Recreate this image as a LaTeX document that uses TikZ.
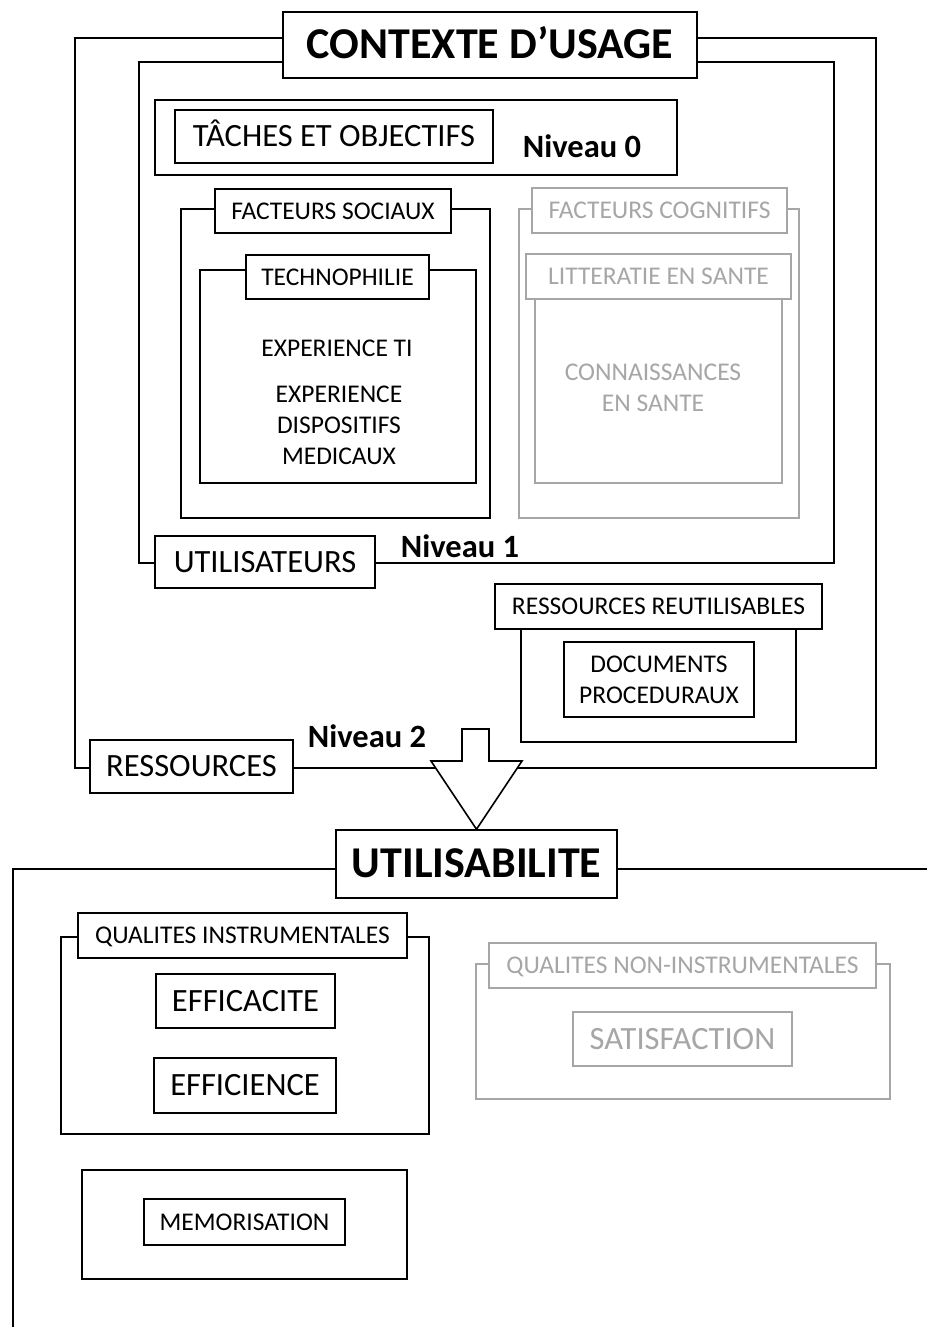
\documentclass[tikz,border=0pt]{standalone}
\usepackage{fontspec}
\setmainfont{Carlito}
\definecolor{lgray}{RGB}{166,166,166}
\begin{document}
\begin{tikzpicture}[x=1pt,y=-1pt,
  frame/.style={draw=black,line width=1.6pt},
  gframe/.style={draw=lgray,line width=1.6pt},
  lbl/.style={draw=black,line width=1.6pt,fill=white,inner sep=0pt,anchor=center},
  glbl/.style={lbl,draw=lgray,text=lgray},
  big/.style={font=\fontsize{44}{50}\selectfont\bfseries,text height=27.8pt,text depth=0pt},
  large/.style={font=\fontsize{32.5}{38}\selectfont,text height=20.5pt,text depth=0pt},
  med/.style={font=\fontsize{25.5}{31}\selectfont,text height=16.1pt,text depth=0pt},
  niv/.style={font=\fontsize{32.5}{38}\selectfont\bfseries,text height=20.5pt,text depth=0pt,inner sep=0pt},
  multi/.style={font=\fontsize{25.5}{31}\selectfont,align=center,inner sep=0pt},
]
\useasboundingbox (0,0) rectangle (927,1327);
\fill[white] (0,0) rectangle (927,1327);
% frames
\draw[frame] (75,38) rectangle (876,768);
\draw[frame] (139,62) rectangle (834,563);
\draw[frame] (155,100) rectangle (677,175);
\draw[frame] (181,209) rectangle (490,518);
\draw[frame] (200,270) rectangle (476,483);
\draw[gframe] (519,209) rectangle (799,518);
\draw[gframe] (535,276) rectangle (782,483);
\draw[frame] (521,606) rectangle (796,742);
\draw[frame] (927,869) -- (13,869) -- (13,1327);
\draw[frame] (61,937) rectangle (429,1134);
\draw[gframe] (476,964) rectangle (890,1099);
\draw[frame] (82,1170) rectangle (407,1279);
% labels
\node[lbl,big,minimum width=414pt,minimum height=66pt] (ctx) at (490,45) {CONTEXTE D’USAGE};
\node[lbl,large,minimum width=318pt,minimum height=53pt] (taches) at (334,136.5) {TÂCHES ET OBJECTIFS};
\node[niv] (n0) at (582,147) {Niveau 0};
\node[lbl,med,minimum width=236pt,minimum height=44pt] (fs) at (333,211) {FACTEURS SOCIAUX};
\node[lbl,med,minimum width=183pt,minimum height=44pt] (tech) at (337.5,277) {TECHNOPHILIE};
\node[med,inner sep=0pt] (expti) at (337,348) {EXPERIENCE TI};
\node[multi] (expdm) at (339,425.5) {EXPERIENCE\\DISPOSITIFS\\MEDICAUX};
\node[glbl,med,minimum width=255pt,minimum height=45pt] (fc) at (659.5,210.5) {FACTEURS COGNITIFS};
\node[glbl,med,minimum width=265pt,minimum height=45pt] (lit) at (658.5,276.5) {LITTERATIE EN SANTE};
\node[multi,text=lgray] (conn) at (653,388) {CONNAISSANCES\\EN SANTE};
\node[lbl,large,minimum width=220pt,minimum height=52pt] (users) at (265,562) {UTILISATEURS};
\node[niv] (n1) at (460,547) {Niveau 1};
\node[lbl,med,minimum width=327pt,minimum height=45pt] (rr) at (658.5,606.5) {RESSOURCES REUTILISABLES};
\node[lbl,multi,minimum width=190pt,minimum height=75pt] (docs) at (659,679.5) {DOCUMENTS\\PROCEDURAUX};
\node[lbl,large,minimum width=203pt,minimum height=53pt] (res) at (191.5,766.5) {RESSOURCES};
\node[niv] (n2) at (367,737.5) {Niveau 2};
\node[lbl,big,minimum width=281pt,minimum height=68pt] (util) at (476.5,864) {UTILISABILITE};
\node[lbl,med,minimum width=329pt,minimum height=45pt] (qi) at (242.5,935.5) {QUALITES INSTRUMENTALES};
\node[lbl,large,minimum width=179pt,minimum height=54pt] (eff1) at (245.5,1001) {EFFICACITE};
\node[lbl,large,minimum width=182pt,minimum height=55pt] (eff2) at (245,1085.5) {EFFICIENCE};
\node[glbl,med,minimum width=387pt,minimum height=45pt] (qni) at (682.5,965.5) {QUALITES NON-INSTRUMENTALES};
\node[glbl,large,minimum width=219pt,minimum height=54pt] (sat) at (682.5,1039) {SATISFACTION};
\node[lbl,med,minimum width=201pt,minimum height=46pt] (mem) at (244.5,1222) {MEMORISATION};
% block arrow
\draw[frame,fill=white,line join=miter] (462,729) -- (489,729) -- (489,761) -- (522,761) -- (util.north) -- (431,761) -- (462,761) -- cycle;
\end{tikzpicture}
\end{document}
